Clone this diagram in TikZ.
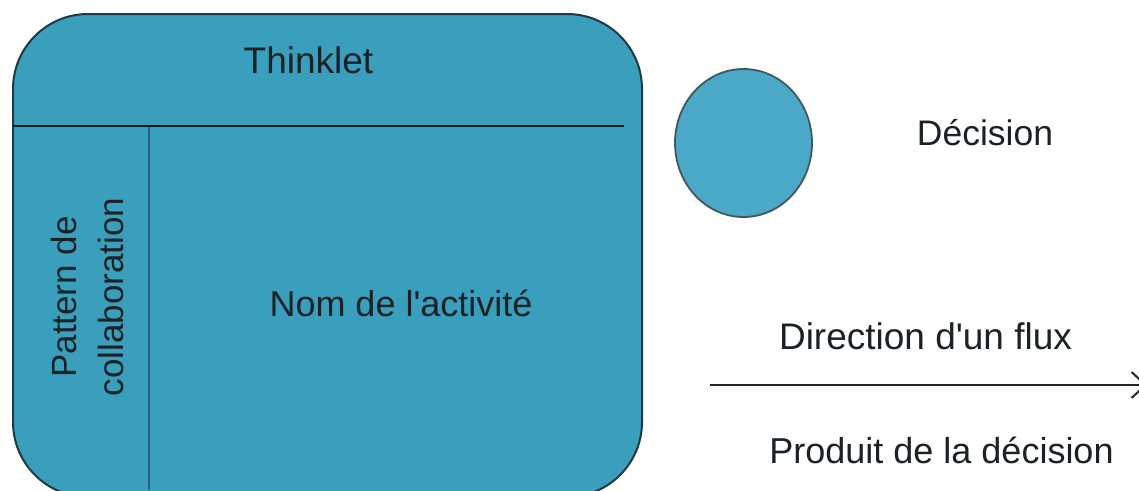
\documentclass[tikz,border=0pt]{standalone}
\usepackage{fontspec}
\setmainfont{Liberation Sans}
\usetikzlibrary{arrows.meta}
\usetikzlibrary{shapes.geometric}
\definecolor{boxteal}{HTML}{3A9EBD}
\definecolor{circteal}{HTML}{49A9C6}
\definecolor{edgedark}{HTML}{1F3A45}
\definecolor{inkblue}{HTML}{2A5C96}
\definecolor{inktext}{HTML}{1A2226}
\tikzset{
  x=1pt,y=-1pt,
  panel/.style={draw=edgedark,line width=2pt,fill=boxteal,rounded corners=75pt,minimum width=629pt,minimum height=483pt,inner sep=0pt},
  disc/.style={draw=edgedark!85!white,line width=1.8pt,fill=circteal,ellipse,inner sep=0pt},
  rule/.style={draw=black!85!boxteal,line width=2.6pt},
  thin rule/.style={draw=inkblue,line width=1.6pt},
  label/.style={text=inktext,inner sep=0pt,font=\fontsize{36}{40}\selectfont},
  flow/.style={draw=black!85,line width=2.2pt,-{Straight Barb[length=14pt,width=26pt,line width=2pt]}}
}
\begin{document}
\begin{tikzpicture}
\useasboundingbox (0,0) rectangle (1139,490);
\clip (0,0) rectangle (1139,490);
\fill[white] (0,0) rectangle (1139,490);
\node[panel] (box) at (327.5,255.5) {};
\coordinate (hl) at (13,126);
\coordinate (hr) at (624,126);
\coordinate (vt) at (149,126);
\coordinate (vb) at (149,490);
\draw[thin rule] (vt) -- (vb);
\draw[rule] (hl) -- (hr);
\node[disc,minimum width=137pt,minimum height=148pt] (dec) at (743.5,143) {};
\coordinate (fs) at (710,385);
\coordinate (fe) at (1147,385);
\draw[flow] (fs) -- (fe);
\node[label,font=\fontsize{37}{40}\selectfont] (thinklet) at (308.5,60) {Thinklet};
\node[label] (nom) at (401,303) {Nom de l\textquotesingle activité};
\node[label,rotate=90,align=center,font=\fontsize{35}{47}\selectfont] (pat) at (87,297) {Pattern de\\collaboration};
\node[label,font=\fontsize{35.5}{40}\selectfont] (decision) at (985,133) {Décision};
\node[label,font=\fontsize{37}{40}\selectfont] (dir) at (925.5,336) {Direction d\textquotesingle un flux};
\node[label] (prod) at (941.5,450) {Produit de la décision};
\end{tikzpicture}
\end{document}
